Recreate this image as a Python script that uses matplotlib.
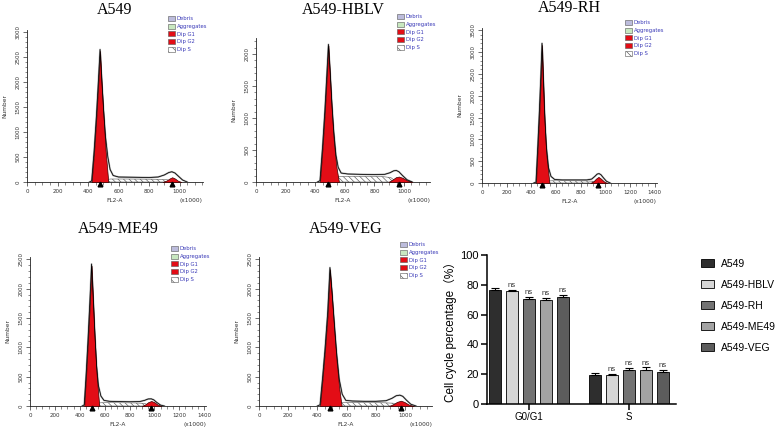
import numpy as np
import matplotlib
matplotlib.use("Agg")
import matplotlib.pyplot as plt
from matplotlib.ticker import MultipleLocator
from matplotlib.patches import Patch
from matplotlib.transforms import offset_copy

W, H = 778, 432
plt.rcParams["hatch.linewidth"] = 0.45

# ---- flow histograms: FL2-A (x1000) vs cell count ----
A549_G1_X = [424, 440, 455, 467, 479, 490, 502, 515, 533]
A549_G1_Y = [0, 600, 1300, 1950, 2620, 1950, 1300, 650, 0]
A549_G2_X = [890, 915, 935, 952, 970, 990, 1012]
A549_G2_Y = [0, 30, 70, 95, 70, 25, 0]
A549_S_X = [470, 500, 550, 650, 750, 850, 920, 960]
A549_S_Y = [0, 45, 60, 60, 58, 55, 45, 0]
A549_ENV_X = [410, 424, 440, 455, 467, 479, 490, 502, 515, 530, 545, 565, 600,
              700, 800, 860, 900, 930, 950, 970, 995, 1020, 1050]
A549_ENV_Y = [0, 20, 620, 1320, 1970, 2650, 2050, 1450, 900, 500, 250, 130, 100,
              95, 90, 100, 140, 190, 205, 180, 110, 40, 0]

HBLV_G1_X = [432, 450, 465, 478, 489, 500, 512, 525, 542, 560]
HBLV_G1_Y = [0, 550, 1100, 1650, 2130, 1650, 1100, 650, 250, 0]
HBLV_G2_X = [895, 920, 945, 965, 990, 1020, 1055]
HBLV_G2_Y = [0, 35, 75, 85, 65, 25, 0]
HBLV_S_X = [480, 510, 560, 650, 750, 850, 910, 950]
HBLV_S_Y = [0, 60, 85, 90, 88, 85, 70, 0]
HBLV_ENV_X = [415, 432, 450, 465, 478, 489, 500, 512, 525, 540, 555, 575, 620,
              700, 800, 870, 905, 930, 948, 965, 990, 1020, 1055]
HBLV_ENV_Y = [0, 20, 570, 1120, 1670, 2150, 1750, 1250, 800, 420, 230, 140, 125,
              120, 115, 120, 145, 175, 180, 160, 100, 35, 0]

RH_G1_X = [438, 452, 465, 477, 487, 497, 508, 522, 547]
RH_G1_Y = [0, 800, 1600, 2400, 3160, 2300, 1400, 650, 0]
RH_G2_X = [880, 905, 925, 945, 965, 990, 1015]
RH_G2_Y = [0, 40, 100, 140, 100, 35, 0]
RH_S_X = [480, 510, 560, 650, 750, 850, 900, 940]
RH_S_Y = [0, 40, 50, 52, 50, 48, 40, 0]
RH_ENV_X = [420, 438, 452, 465, 477, 487, 497, 508, 522, 540, 560, 590, 650,
            750, 850, 890, 915, 935, 950, 965, 985, 1010, 1040]
RH_ENV_Y = [0, 20, 820, 1620, 2450, 3200, 2450, 1600, 850, 350, 150, 80, 70,
            70, 70, 90, 150, 205, 215, 190, 120, 40, 0]

ME49_G1_X = [436, 452, 466, 480, 495, 508, 520, 535, 557]
ME49_G1_Y = [0, 550, 1100, 1700, 2390, 1750, 1150, 550, 0]
ME49_G2_X = [900, 925, 950, 975, 1000, 1025, 1055]
ME49_G2_Y = [0, 25, 65, 85, 65, 25, 0]
ME49_S_X = [490, 520, 570, 650, 750, 850, 920, 970]
ME49_S_Y = [0, 40, 55, 57, 55, 52, 45, 0]
ME49_ENV_X = [420, 436, 452, 466, 480, 495, 508, 520, 535, 550, 570, 595, 640,
              720, 800, 880, 920, 950, 975, 995, 1020, 1050, 1080]
ME49_ENV_Y = [0, 20, 570, 1120, 1730, 2420, 1850, 1300, 700, 350, 170, 95, 80,
              75, 72, 75, 95, 120, 122, 105, 60, 15, 0]

VEG_G1_X = [418, 435, 452, 470, 486, 500, 515, 532, 550, 566]
VEG_G1_Y = [0, 450, 950, 1550, 2330, 1850, 1300, 750, 300, 0]
VEG_G2_X = [890, 920, 945, 972, 995, 1025, 1060]
VEG_G2_Y = [0, 30, 70, 90, 70, 25, 0]
VEG_S_X = [480, 510, 560, 650, 750, 850, 920, 970]
VEG_S_Y = [0, 45, 58, 58, 57, 55, 48, 0]
VEG_ENV_X = [400, 418, 435, 452, 470, 486, 500, 515, 532, 550, 570, 595, 640,
             720, 800, 870, 910, 940, 965, 985, 1010, 1040, 1075]
VEG_ENV_Y = [0, 20, 470, 970, 1580, 2360, 1950, 1450, 900, 450, 200, 95, 85,
             80, 80, 90, 130, 175, 185, 165, 100, 30, 0]

FIT_LABELS = ["Debris", "Aggregates", "Dip G1", "Dip G2", "Dip S"]

# ---- bar chart: cell cycle percentage ----
PHASES = ["G0/G1", "S"]
SAMPLES = ["A549", "A549-HBLV", "A549-RH", "A549-ME49", "A549-VEG"]
G0G1 = [76.5, 76.0, 70.5, 70.0, 71.8]
G0G1_ERR = [1.6, 0.7, 1.5, 1.2, 1.2]
S_PHASE = [19.5, 19.5, 22.8, 23.0, 21.2]
S_ERR = [1.3, 0.8, 1.4, 1.5, 1.8]
BAR_COLORS = ["#2e2e2e", "#d6d6d6", "#737373", "#a3a3a3", "#5c5c5c"]

RED = "#e30d16"
LEG_BLUE = "#3a3ab8"

fig = plt.figure(figsize=(W / 100, H / 100), dpi=100)


def px_axes(left, top, right, bottom):
    return fig.add_axes([left / W, 1 - bottom / H,
                         (right - left) / W, (bottom - top) / H])


def draw_hist(box, xmax, ymax, title, title_y, g1, g2, s, env, leg):
    ax = px_axes(*box)
    ax.fill_between(s[0], s[1], facecolor="white", edgecolor="#555555",
                    hatch="\\\\\\\\\\\\", lw=0.4, zorder=1)
    ax.plot(env[0], env[1], color="#b0b0b0", lw=1.3, zorder=2)
    ax.fill_between(g1[0], g1[1], facecolor=RED, edgecolor="#3a0000",
                    lw=0.5, zorder=3)
    ax.fill_between(g2[0], g2[1], facecolor=RED, edgecolor="#3a0000",
                    lw=0.5, zorder=3)
    ax.plot(env[0], env[1], color="black", lw=0.55, zorder=4)

    # peak markers under the axis
    tri = offset_copy(ax.transData, fig=fig, y=-2.0, units="dots")
    for xs, ys in (g1, g2):
        ax.plot([xs[int(np.argmax(ys))]], [0], marker="^", ms=3.4,
                color="black", transform=tri, clip_on=False, zorder=5)

    ax.set_xlim(0, xmax)
    ax.set_ylim(0, ymax)
    ax.xaxis.set_major_locator(MultipleLocator(200))
    ax.xaxis.set_minor_locator(MultipleLocator(50))
    ax.yaxis.set_major_locator(MultipleLocator(500))
    ax.yaxis.set_minor_locator(MultipleLocator(100))
    for sp in ("top", "right"):
        ax.spines[sp].set_visible(False)
    for sp in ("left", "bottom"):
        ax.spines[sp].set_linewidth(0.6)
        ax.spines[sp].set_color("#222222")
    ax.tick_params(which="major", length=3.2, width=0.5, labelsize=4,
                   colors="#333333", pad=1.5)
    ax.tick_params(which="minor", length=1.8, width=0.4, colors="#333333")
    ax.tick_params(axis="y", labelrotation=90)
    for lbl in ax.get_yticklabels():
        lbl.set_va("center")

    ax.annotate("Number", xy=(0, 0.5), xycoords="axes fraction",
                xytext=(-16, 0), textcoords="offset points", rotation=90,
                ha="center", va="center", fontsize=4.2, color="#333333")
    ax.annotate("FL2-A", xy=(0.5, 0), xycoords="axes fraction",
                xytext=(0, -13.5), textcoords="offset points",
                ha="center", va="center", fontsize=4.2, color="#333333")
    ax.annotate("(x1000)", xy=(1, 0), xycoords="axes fraction",
                xytext=(0, -13.5), textcoords="offset points",
                ha="right", va="center", fontsize=4.2, color="#333333")

    cx = (box[0] + box[2]) / 2
    fig.text(cx / W, 1 - title_y / H, title, ha="center", va="center",
             family="Liberation Serif", fontsize=11.5)

    handles = [Patch(facecolor="#bcbcdc", edgecolor="#555555", lw=0.4),
               Patch(facecolor="#c8e8c0", edgecolor="#555555", lw=0.4),
               Patch(facecolor=RED, edgecolor="#555555", lw=0.4),
               Patch(facecolor=RED, edgecolor="#555555", lw=0.4),
               Patch(facecolor="white", edgecolor="#555555", lw=0.4,
                     hatch="\\\\\\\\")]
    fig.legend(handles, FIT_LABELS, loc="upper left",
               bbox_to_anchor=(leg[0] / W, 1 - leg[1] / H),
               bbox_transform=fig.transFigure, frameon=False, fontsize=3.8,
               labelcolor=LEG_BLUE, handlelength=1.3, handleheight=1.1,
               labelspacing=0.45, handletextpad=0.4, borderpad=0,
               borderaxespad=0)
    return ax


draw_hist((27, 30, 203, 182), 1154, 3040, "A549", 9.5,
          (A549_G1_X, A549_G1_Y), (A549_G2_X, A549_G2_Y),
          (A549_S_X, A549_S_Y), (A549_ENV_X, A549_ENV_Y), (168, 16))
draw_hist((256, 38, 430, 182), 1175, 2250, "A549-HBLV", 9.5,
          (HBLV_G1_X, HBLV_G1_Y), (HBLV_G2_X, HBLV_G2_Y),
          (HBLV_S_X, HBLV_S_Y), (HBLV_ENV_X, HBLV_ENV_Y), (397, 14))
draw_hist((482, 28, 657, 183), 1420, 3550, "A549-RH", 8.5,
          (RH_G1_X, RH_G1_Y), (RH_G2_X, RH_G2_Y),
          (RH_S_X, RH_S_Y), (RH_ENV_X, RH_ENV_Y), (625, 20))
draw_hist((30, 257, 206, 406), 1415, 2540, "A549-ME49", 229,
          (ME49_G1_X, ME49_G1_Y), (ME49_G2_X, ME49_G2_Y),
          (ME49_S_X, ME49_S_Y), (ME49_ENV_X, ME49_ENV_Y), (171, 246))
draw_hist((259, 257, 432, 406), 1185, 2540, "A549-VEG", 229,
          (VEG_G1_X, VEG_G1_Y), (VEG_G2_X, VEG_G2_Y),
          (VEG_S_X, VEG_S_Y), (VEG_ENV_X, VEG_ENV_Y), (400, 242))

# ---- grouped bar chart ----
bx = px_axes(487, 255, 676, 404)
n = len(SAMPLES)
width, step = 0.12, 0.17
groups = np.arange(len(PHASES))
for i, (name, col) in enumerate(zip(SAMPLES, BAR_COLORS)):
    xs = groups + (i - (n - 1) / 2) * step
    vals = [G0G1[i], S_PHASE[i]]
    errs = [G0G1_ERR[i], S_ERR[i]]
    bx.bar(xs, vals, width, color=col, edgecolor="black", lw=0.6,
           label=name, zorder=2)
    bx.errorbar(xs, vals, yerr=[[0, 0], errs], fmt="none", ecolor="black",
                elinewidth=0.8, capsize=2.6, capthick=0.8, zorder=3)
    if i > 0:
        for x, v, e in zip(xs, vals, errs):
            bx.text(x, v + e + 0.5, "ns", ha="center", va="bottom",
                    fontsize=5.5, color="#333333", family="Liberation Sans")

bx.set_xlim(-0.42, 1.47)
bx.set_ylim(0, 100)
bx.set_yticks(np.arange(0, 101, 20))
bx.set_xticks(groups)
bx.set_xticklabels(PHASES, family="Liberation Sans", fontsize=7)
for lbl in bx.get_yticklabels():
    lbl.set_family("Liberation Sans")
    lbl.set_fontsize(8)
for sp in ("top", "right"):
    bx.spines[sp].set_visible(False)
for sp in ("left", "bottom"):
    bx.spines[sp].set_linewidth(1.1)
bx.tick_params(length=4, width=1.1, pad=2)
bx.set_ylabel("Cell cycle percentage（%）", fontsize=8.5, labelpad=2,
              family=["Liberation Sans", "Noto Sans CJK SC"])

fig.legend(*bx.get_legend_handles_labels(), loc="upper left",
           bbox_to_anchor=(701 / W, 1 - 259 / H), bbox_transform=fig.transFigure,
           frameon=False, prop={"family": "Liberation Sans", "size": 7.5},
           handlelength=1.2, handleheight=0.8, labelspacing=1.05,
           handletextpad=0.7, borderpad=0, borderaxespad=0)

fig.savefig("out.png", dpi=100)
